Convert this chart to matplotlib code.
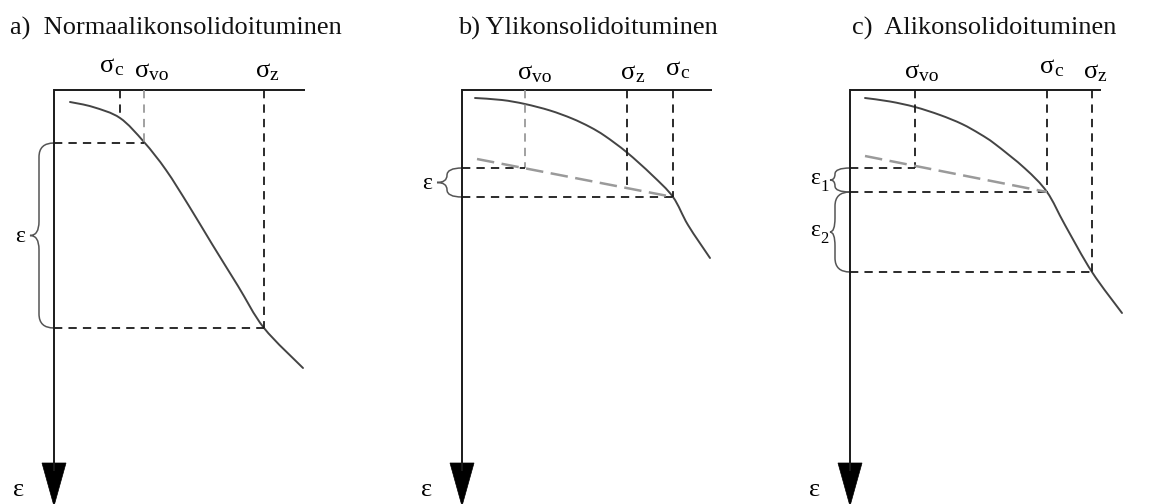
import matplotlib
matplotlib.use("Agg")
import matplotlib.pyplot as plt
from matplotlib.path import Path
from matplotlib.patches import PathPatch, Polygon
from matplotlib.transforms import Affine2D

plt.rcParams['font.family'] = ['Liberation Serif', 'DejaVu Serif']

# --- panel data (stress to the right, strain downwards, origin at axis corner) ---
titles = ['a)  Normaalikonsolidoituminen', 'b) Ylikonsolidoituminen', 'c)  Alikonsolidoituminen']
origins = [(54, 90), (462, 90), (850, 90)]
axis_len = [251, 250, 251]

# compression curves
a_curve_s = [16, 39, 66, 90, 112, 135, 158, 184, 210, 249]
a_curve_e = [12, 17, 28, 52, 80, 116, 154, 196, 238, 278]
b_curve_s = [13, 40, 63, 88, 110, 128, 143, 165, 190, 211, 226, 248]
b_curve_e = [8, 10, 14, 20.5, 28.5, 37, 46, 62.5, 85, 107, 135, 168]
c_curve_s = [15, 40, 65, 90, 112, 130, 145, 175, 197, 215, 242, 272]
c_curve_e = [8, 11.5, 17, 25, 34, 44, 54, 78.5, 102, 135, 182, 223]

# reloading line (over/under consolidated cases)
b_reload_s = [15, 211]
b_reload_e = [69, 107]
c_reload_s = [15, 197]
c_reload_e = [66, 102]

# stress markers: name, stress, strain where the guide line stops
a_sig_names = ['c', 'vo', 'z']
a_sig_s = [66, 90, 210]
a_sig_e = [28, 52, 238]
b_sig_names = ['vo', 'z', 'c']
b_sig_s = [63, 165, 211]
b_sig_e = [78, 100, 107]
c_sig_names = ['vo', 'c', 'z']
c_sig_s = [65, 197, 242]
c_sig_e = [78, 102, 182]

# strain levels carried across to the strain axis
a_lev_s = [90, 210]
a_lev_e = [53, 238]
b_lev_s = [63, 211]
b_lev_e = [78, 107]
c_lev_s = [65, 197, 242]
c_lev_e = [78, 102, 182]

# braces: (top strain, bottom strain, label)
a_braces = [(53, 238, 'ε', '')]
b_braces = [(78, 107, 'ε', '')]
c_braces = [(78, 102, 'ε', '1'), (102, 182, 'ε', '2')]

# label styling per panel
sig_dx = [[-20, -9, -8], [-7, -6, -7], [-10, -7, -8]]
sig_y = [[-18, -13, -13], [-11, -11, -15], [-12, -17, -12]]
guide_grey = [[False, True, False], [True, False, False], [False, False, False]]
brace_tip = [-24, -25, -20]
title_x = [10, 458, 852]

INK = '#1a1a1a'
CURVE = '#444444'
GREY = '#9a9a9a'
DASH = (0, (4.6, 3.4))


def smooth_path(xs, ys):
    # catmull-rom through the points, written as cubic bezier segments
    pts = list(zip(xs, ys))
    verts = [pts[0]]
    codes = [Path.MOVETO]
    n = len(pts)
    for j in range(n - 1):
        p0 = pts[max(j - 1, 0)]
        p1 = pts[j]
        p2 = pts[j + 1]
        p3 = pts[min(j + 2, n - 1)]
        c1 = (p1[0] + (p2[0] - p0[0]) / 6, p1[1] + (p2[1] - p0[1]) / 6)
        c2 = (p2[0] - (p3[0] - p1[0]) / 6, p2[1] - (p3[1] - p1[1]) / 6)
        verts += [c1, c2, p2]
        codes += [Path.CURVE4] * 3
    return Path(verts, codes)


def draw_brace(ax, tr, e0, e1, xb, xt):
    r = min(14, (e1 - e0) / 4)
    em = (e0 + e1) / 2
    verts = [(0, e0), (xb, e0), (xb, e0 + r),
             (xb, em - r), (xb, em), (xt, em),
             (xb, em), (xb, em + r),
             (xb, e1 - r), (xb, e1), (0, e1)]
    codes = [Path.MOVETO, Path.CURVE3, Path.CURVE3,
             Path.LINETO, Path.CURVE3, Path.CURVE3,
             Path.CURVE3, Path.CURVE3,
             Path.LINETO, Path.CURVE3, Path.CURVE3]
    ax.add_patch(PathPatch(Path(verts, codes), fill=False, ec='#555555',
                           lw=1.1, transform=tr))


fig = plt.figure(figsize=(11.76, 5.04), dpi=100)
ax = fig.add_axes([0, 0, 1, 1])
ax.set_xlim(0, 1176)
ax.set_ylim(504, 0)
ax.axis('off')

panels = [
    (a_curve_s, a_curve_e, None, None, a_sig_names, a_sig_s, a_sig_e, a_lev_s, a_lev_e, a_braces),
    (b_curve_s, b_curve_e, b_reload_s, b_reload_e, b_sig_names, b_sig_s, b_sig_e, b_lev_s, b_lev_e, b_braces),
    (c_curve_s, c_curve_e, c_reload_s, c_reload_e, c_sig_names, c_sig_s, c_sig_e, c_lev_s, c_lev_e, c_braces),
]

for i, (cs, ce, rs, re_, names, ss, se, ls, le, braces) in enumerate(panels):
    ox, oy = origins[i]
    tr = Affine2D().translate(ox, oy) + ax.transData

    ax.text(title_x[i], 35, titles[i], fontsize=19, va='baseline', ha='left', color='#111111')

    # axes: stress along the top, strain downwards with arrow head
    ax.plot([0, axis_len[i]], [0, 0], color=INK, lw=1.4, transform=tr, solid_capstyle='butt')
    ax.plot([0, 0], [0, 380], color=INK, lw=1.4, transform=tr)
    ax.add_patch(Polygon([(-12, 373), (12, 373), (0, 416)], closed=True,
                         fc='black', ec='black', lw=0.5, transform=tr))
    ax.text(-35, 400, 'ε', fontsize=19, ha='center', va='center', transform=tr)

    # guide lines
    for k, (s, e) in enumerate(zip(ss, se)):
        col = GREY if guide_grey[i][k] else INK
        ax.plot([s, s], [0, e], color=col, lw=1.3, ls=DASH, transform=tr)
    for s, e in zip(ls, le):
        ax.plot([0, s], [e, e], color=INK, lw=1.3, ls=DASH, transform=tr)

    if rs is not None:
        ax.plot(rs, re_, color=GREY, lw=1.8, ls=(0, (7, 3)), transform=tr)

    ax.add_patch(PathPatch(smooth_path(cs, ce), fill=False, ec=CURVE, lw=1.4,
                           capstyle='round', transform=tr))

    # stress labels
    for k, (name, s) in enumerate(zip(names, ss)):
        x = s + sig_dx[i][k]
        y = sig_y[i][k]
        ax.text(x, y, 'σ', fontsize=19, ha='left', va='baseline', transform=tr)
        ax.text(x + 14, y + 3, name, fontsize=14, ha='left', va='baseline', transform=tr)

    # braces with strain labels
    for e0, e1, lab, sub in braces:
        draw_brace(ax, tr, e0, e1, -15, brace_tip[i])
        em = (e0 + e1) / 2
        if sub:
            ax.text(brace_tip[i] - 15, em - 1, lab, fontsize=17, ha='center', va='center', transform=tr)
            ax.text(brace_tip[i] - 10, em + 7, sub, fontsize=12, ha='left', va='center', transform=tr)
        else:
            ax.text(brace_tip[i] - 10, em + 1, lab, fontsize=17, ha='center', va='center', transform=tr)

fig.savefig('out.png', dpi=100)
